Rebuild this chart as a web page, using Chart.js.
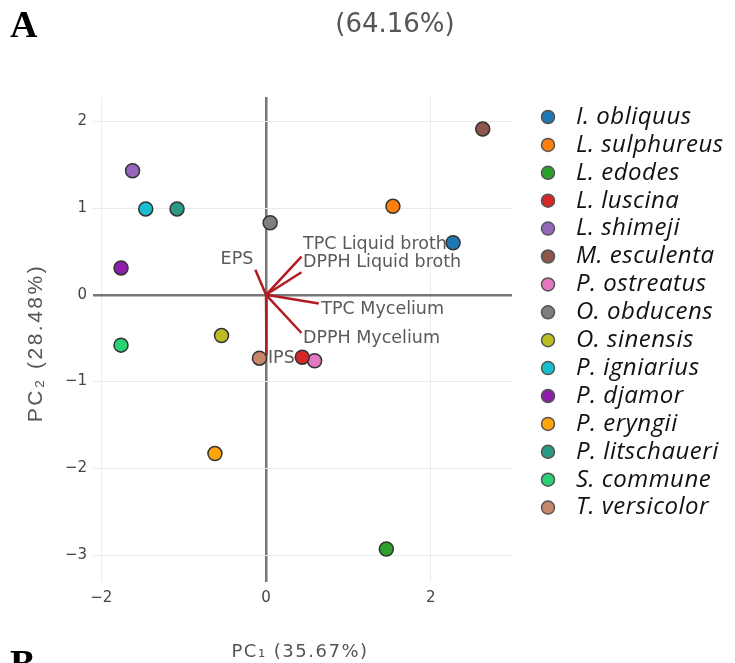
<!DOCTYPE html>
<html>
<head>
<meta charset="utf-8">
<title>PCA biplot</title>
<script src="https://cdn.jsdelivr.net/npm/chart.js@4/dist/chart.umd.min.js"></script>
<style>
  html, body { margin: 0; padding: 0; background: #fff; }
  #wrap { width: 735px; height: 663px; }
</style>
</head>
<body>
<div id="wrap"><canvas id="pca" width="735" height="663"></canvas></div>
<script>
// ── PCA scores (one point per species) ──────────────────
const species = [
  'I. obliquus', 'L. sulphureus', 'L. edodes', 'L. luscina', 'L. shimeji',
  'M. esculenta', 'P. ostreatus', 'O. obducens', 'O. sinensis', 'P. igniarius',
  'P. djamor', 'P. eryngii', 'P. litschaueri', 'S. commune', 'T. versicolor'
];
const pc1 = [ 2.27,  1.54,  1.46,  0.44, -1.62,  2.63,  0.59,  0.05, -0.54, -1.46, -1.76, -0.62, -1.08, -1.76, -0.08];
const pc2 = [ 0.60,  1.02, -2.93, -0.72,  1.43,  1.91, -0.76,  0.83, -0.47,  0.99,  0.31, -1.83,  0.99, -0.58, -0.73];

// ── loading vectors ─────────────────────────────────────
const variables = ['EPS', 'TPC Liquid broth', 'DPPH Liquid broth', 'TPC Mycelium', 'DPPH Mycelium', 'IPS'];
const loadX = [-0.13, 0.43, 0.43, 0.64, 0.43, 0.005];
const loadY = [ 0.29, 0.44, 0.26, -0.10, -0.44, -0.70];

// ── axes ────────────────────────────────────────────────
const xTicks = [-2, 0, 2];
const yTicks = [-3, -2, -1, 0, 1, 2];
const xTitle = 'PC\u2081 (35.67%)';
const yTitle = 'PC\u2082 (28.48%)';
const topNote = '(64.16%)';

const PALETTE = [
  '#1f77b4', '#ff7f0e', '#2ca02c', '#d62728', '#9467bd',
  '#8c564b', '#e377c2', '#7f7f7f', '#bcbd22', '#17becf',
  '#8e1fab', '#ffa40a', '#2a9a86', '#2ad175', '#c6876a'
];
const VEC_COLOR = '#b01c22';

// label anchor per loading vector: [align, dx, dy]
const VEC_LABEL = [
  ['right', -2, -10],
  ['left',  1.5, -12],
  ['left',  1.5, -10],
  ['left',  2.5,  6],
  ['left',  1.5,  5],
  ['left',  1.5,  3]
];

const minus = v => (v < 0 ? '\u2212' + Math.abs(v) : String(v));

const datasets = [];
species.forEach((name, i) => {
  datasets.push({
    label: name,
    isSpecies: true,
    data: [{ x: pc1[i], y: pc2[i] }],
    backgroundColor: PALETTE[i],
    borderColor: '#333',
    borderWidth: 1.5,
    pointRadius: 7,
    order: 0
  });
});
variables.forEach((v, j) => {
  datasets.push({
    label: v,
    isSpecies: false,
    data: [{ x: 0, y: 0 }, { x: loadX[j], y: loadY[j] }],
    showLine: true,
    borderColor: VEC_COLOR,
    borderWidth: 2.5,
    pointRadius: 0,
    order: 1
  });
});

// text at the end of each loading vector, below the markers
const vecLabels = {
  id: 'vecLabels',
  beforeDatasetsDraw(chart) {
    const { ctx, scales: { x, y } } = chart;
    ctx.save();
    ctx.font = '17.5px "DejaVu Sans"';
    ctx.fillStyle = '#5a5a5a';
    ctx.textBaseline = 'middle';
    variables.forEach((v, j) => {
      const [align, dx, dy] = VEC_LABEL[j];
      ctx.textAlign = align;
      ctx.fillText(v, x.getPixelForValue(loadX[j]) + dx, y.getPixelForValue(loadY[j]) + dy);
    });
    ctx.restore();
  }
};

// species legend on the right
const sideLegend = {
  id: 'sideLegend',
  afterDraw(chart) {
    const { ctx } = chart;
    const items = chart.data.datasets.filter(d => d.isSpecies);
    ctx.save();
    ctx.font = 'italic 24px "Open Sans"';
    ctx.letterSpacing = '0.5px';
    ctx.textBaseline = 'middle';
    ctx.textAlign = 'left';
    items.forEach((d, i) => {
      const cy = 117 + i * 27.9;
      ctx.beginPath();
      ctx.arc(548, cy, 6.5, 0, Math.PI * 2);
      ctx.fillStyle = d.backgroundColor;
      ctx.fill();
      ctx.lineWidth = 1.5;
      ctx.strokeStyle = '#555';
      ctx.stroke();
      ctx.fillStyle = '#111';
      ctx.fillText(d.label, 576, cy);
    });
    ctx.restore();
  }
};

// axis titles, panel letters and the note above the plot
const pageText = {
  id: 'pageText',
  afterDraw(chart) {
    const { ctx } = chart;
    ctx.save();
    ctx.fillStyle = '#000';
    ctx.font = 'bold 38px "Liberation Serif"';
    ctx.textAlign = 'left';
    ctx.textBaseline = 'alphabetic';
    ctx.fillText('A', 10, 37);
    ctx.fillText('B', 10, 676);

    ctx.fillStyle = '#555';
    ctx.textAlign = 'center';
    ctx.textBaseline = 'middle';
    ctx.font = '26px "DejaVu Sans"';
    ctx.fillText(topNote, 395, 25);

    ctx.font = '18px "DejaVu Sans"';
    ctx.letterSpacing = '1.5px';
    ctx.fillText(xTitle, 300, 652);

    ctx.translate(36, 343);
    ctx.rotate(-Math.PI / 2);
    ctx.font = '21px "Liberation Sans"';
    ctx.letterSpacing = '2.5px';
    ctx.fillText(yTitle, 0, 0);
    ctx.restore();
  }
};

const gridColor = c => (c.tick && c.tick.value === 0 ? '#767676' : '#ebebeb');
const gridWidth = c => (c.tick && c.tick.value === 0 ? 2.5 : 1);

new Chart(document.getElementById('pca'), {
  type: 'scatter',
  data: { datasets },
  options: {
    responsive: false,
    animation: false,
    devicePixelRatio: 1,
    layout: { padding: { top: 97, right: 223, bottom: 0, left: 0 } },
    plugins: {
      legend: { display: false },
      tooltip: { enabled: false }
    },
    scales: {
      x: {
        type: 'linear',
        min: -2.1,
        max: 2.985,
        afterBuildTicks: s => { s.ticks = xTicks.map(v => ({ value: v })); },
        afterFit: s => { s.height = 81; },
        border: { display: false },
        grid: { color: gridColor, lineWidth: gridWidth, drawTicks: false },
        ticks: {
          padding: 7,
          color: '#444',
          font: { family: 'DejaVu Sans', size: 15 },
          callback: v => minus(v)
        }
      },
      y: {
        type: 'linear',
        min: -3.31,
        max: 2.28,
        afterBuildTicks: s => { s.ticks = yTicks.map(v => ({ value: v })); },
        afterFit: s => { s.width = 93; },
        border: { display: false },
        grid: { color: gridColor, lineWidth: gridWidth, drawTicks: false },
        ticks: {
          padding: 6,
          color: '#444',
          font: { family: 'DejaVu Sans', size: 15 },
          callback: v => minus(v)
        }
      }
    }
  },
  plugins: [vecLabels, sideLegend, pageText]
});
</script>
</body>
</html>
